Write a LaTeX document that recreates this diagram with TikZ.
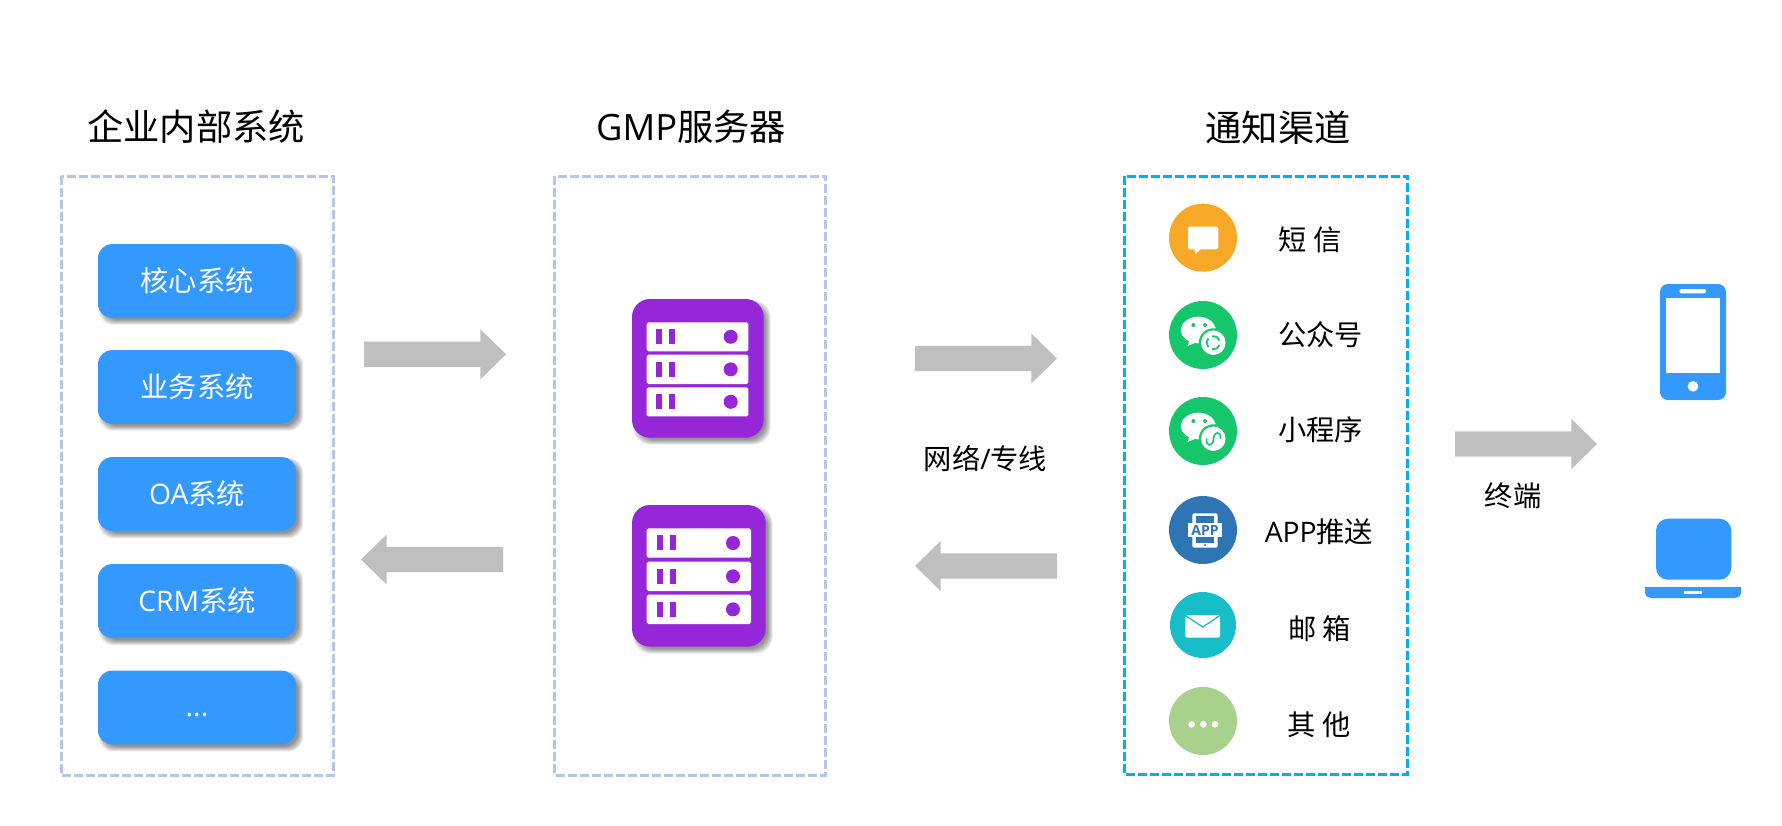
\documentclass[tikz,border=0pt]{standalone}
\usepackage{fontspec}
\setmainfont{Open Sans}
\newfontfamily\cjk{Noto Sans CJK SC}
\usetikzlibrary{calc}
\definecolor{bluefill}{HTML}{3399FF}
\definecolor{purplefill}{HTML}{9527D8}
\definecolor{dashpale}{HTML}{B4C7E7}
\definecolor{dashcyan}{HTML}{00B0F0}
\definecolor{flowgrey}{HTML}{BFBFBF}
\definecolor{orangefill}{HTML}{F7A827}
\definecolor{greenfill}{HTML}{16C66B}
\definecolor{appblue}{HTML}{2E75B6}
\definecolor{tealfill}{HTML}{17BEC8}
\definecolor{olivefill}{HTML}{A9D18E}
\newcommand{\fsT}{\fontsize{27.2}{32}\selectfont}
\newcommand{\fsB}{\fontsize{21.2}{25}\selectfont}
\tikzset{
  x=0.75pt,y=-0.75pt,
  titletext/.style={font=\fsT,text=black,inner sep=0pt},
  bodytext/.style={font=\fsB,text=black,inner sep=0pt},
  whitetext/.style={font=\fsB,text=white,inner sep=0pt},
  panelpale/.style={draw=dashpale,line width=2.25pt,dash pattern=on 6.75pt off 2.25pt},
  panelcyan/.style={draw=dashcyan,line width=2.25pt,dash pattern=on 6.75pt off 2.25pt},
  sysbox/.style={rectangle,rounded corners=10.5pt,fill=bluefill,minimum width=148.5pt,minimum height=55.3pt,inner sep=0pt,font=\fsB,text=white},
  flow/.style={fill=flowgrey},
  badge/.style={circle,inner sep=0pt,minimum size=51pt},
}
% soft shadow: x1 y1 x2 y2 radius(pt)
\newcommand{\softshadow}[5]{%
  \foreach \k in {0,1,2,3,4,5}{%
    \fill[black,opacity=0.085,rounded corners=#5]
      ({#1+4-3+\k},{#2+4-3+\k}) rectangle ({#3+4+3-\k},{#4+4+3-\k});
  }}
% rightward block arrow: x1 tail, x2 tip, y centre
\newcommand{\arrowright}[3]{%
  \fill[flow] (#1,#3-12.7) -- ({#2-25.6},#3-12.7) -- ({#2-25.6},#3-25) -- (#2,#3)
    -- ({#2-25.6},#3+25) -- ({#2-25.6},#3+12.7) -- (#1,#3+12.7) -- cycle;}
\newcommand{\arrowleft}[3]{%
  \fill[flow] (#1,#3-12.7) -- ({#2+25.6},#3-12.7) -- ({#2+25.6},#3-25) -- (#2,#3)
    -- ({#2+25.6},#3+25) -- ({#2+25.6},#3+12.7) -- (#1,#3+12.7) -- cycle;}
% rack: x1 x2 y1 y2 slot1x slot2x circlex
\newcommand{\rack}[7]{%
  \fill[white,rounded corners=1.2pt] (#1,#3) rectangle (#2,#4);
  \fill[purplefill] (#5,#3+7) rectangle ({#5+6},#3+22);
  \fill[purplefill] (#6,#3+7) rectangle ({#6+6},#3+22);
  \fill[purplefill] (#7,{(#3+#4)/2}) circle[radius=5.25pt];}
% wechat bubble inside a badge centred at (#1,#2)
\newcommand{\wechatbase}[2]{%
  \fill[white] ({#1-4.7},{#2-5}) ellipse[x radius=13pt,y radius=10pt];
  \fill[white] ({#1-13},{#2+3}) -- ({#1-15.3},{#2+11}) -- ({#1-6},{#2+7}) -- cycle;
  \fill[greenfill] ({#1-9.7},{#2-10}) circle[radius=1.5pt];
  \fill[greenfill] ({#1+2},{#2-10}) circle[radius=1.5pt];
  \fill[greenfill] ({#1+10.3},{#2+7.7}) circle[radius=10.8pt];
  \fill[white] ({#1+10.3},{#2+7.7}) circle[radius=9.2pt];}
\begin{document}
\begin{tikzpicture}
\useasboundingbox[fill=white] (0,0) rectangle (1782,825);

% titles
\node[titletext] (title1) at (196,127) {\cjk 企业内部系统};
\node[titletext] (title2) at (691,127) {GMP{\cjk 服务器}};
\node[titletext] (title3) at (1278,128) {\cjk 通知渠道};

% panels
\draw[panelpale] (61,176) rectangle (333.5,775);
\draw[panelpale] (554.5,176) rectangle (825.5,775);
\draw[panelcyan] (1124.5,176) rectangle (1407.5,774.5);

% system boxes
\softshadow{98}{244}{296}{317.7}{10.5pt}
\softshadow{98}{350}{296}{423.7}{10.5pt}
\softshadow{98}{457}{296}{531}{10.5pt}
\softshadow{98}{564.5}{296}{638}{10.5pt}
\softshadow{98}{670.5}{296}{744.4}{10.5pt}
\node[sysbox] (core) at (197,281) {\cjk 核心系统};
\node[sysbox] (biz) at (197,387) {\cjk 业务系统};
\node[sysbox] (oa) at (197,494) {OA{\cjk 系统}};
\node[sysbox] (crm) at (197,601) {CRM{\cjk 系统}};
\node[sysbox] (more) at (197,707.5) {};
\node[whitetext] (moretext) at (197,715.3) {...};

% servers
\softshadow{632}{299}{763.7}{437.7}{13.5pt}
\fill[purplefill,rounded corners=13.5pt] (632,299) rectangle (763.7,437.7);
\rack{646.7}{748.3}{322.3}{351.3}{656.3}{669}{730.7}
\rack{646.7}{748.3}{354.7}{384}{656.3}{669}{730.7}
\rack{646.7}{748.3}{387.3}{416.3}{656.3}{669}{730.7}
\softshadow{632}{505}{765.7}{646.7}{13.5pt}
\fill[purplefill,rounded corners=13.5pt] (632,505) rectangle (765.7,646.7);
\rack{646.7}{751}{528.3}{557.7}{657}{669.7}{733}
\rack{646.7}{751}{561.7}{591}{657}{669.7}{733}
\rack{646.7}{751}{594.7}{624}{657}{669.7}{733}

% block arrows
\arrowright{364}{506}{354.3}
\arrowleft{503}{361}{559.5}
\arrowright{915}{1057}{358.5}
\arrowleft{1057}{915}{566}
\arrowright{1455}{1597}{444}

% connector labels
\node[bodytext] (netlabel) at (985.5,458.5) {{\cjk 网络}/{\cjk 专线}};
\node[bodytext] (termlabel) at (1513,496) {\cjk 终端};

% channel badges
\node[badge,fill=orangefill] (sms) at (1203,237.7) {};
\node[badge,fill=greenfill] (mp) at (1203,335) {};
\node[badge,fill=greenfill] (mini) at (1203,431) {};
\node[badge,fill=appblue] (app) at (1203,530) {};
\node[badge,fill=tealfill,minimum size=49.5pt] (mail) at (1203,625) {};
\node[badge,fill=olivefill] (other) at (1203,721) {};

% sms glyph
\fill[white,rounded corners=1.2pt] (1188,226.7) rectangle (1218.3,249.3);
\fill[white] (1194,248) -- (1195.5,254) -- (1202,248) -- cycle;
% public account glyph
\wechatbase{1203}{335}
\draw[greenfill,line width=1.4pt] (1213.3,342.7) ++(20:5pt) arc[start angle=20,end angle=100,radius=5pt];
\draw[greenfill,line width=1.4pt] (1213.3,342.7) ++(140:5pt) arc[start angle=140,end angle=220,radius=5pt];
\draw[greenfill,line width=1.4pt] (1213.3,342.7) ++(260:5pt) arc[start angle=260,end angle=340,radius=5pt];
% mini program glyph
\wechatbase{1203}{431}
\draw[greenfill,line width=1.2pt,line cap=round] (1206.5,439) .. controls (1206,447) and (1213,447) .. (1213.5,438.7) .. controls (1214,431) and (1221,431) .. (1220.5,438);
% app glyph
\fill[white,rounded corners=1.5pt] (1192.3,513.3) rectangle (1217.7,547.7);
\fill[appblue] (1195.7,515.7) rectangle (1214.3,542.7);
\fill[white] (1188,522.7) rectangle (1222,537.3);
\node[inner sep=0pt,text=appblue,font=\fontsize{10.5}{12}\selectfont\bfseries] (apptext) at (1205,530) {APP};
\fill[appblue] (1205,545) circle[radius=0.9pt];
% mail glyph
\fill[white,rounded corners=1.5pt] (1185.3,615) rectangle (1220,637.7);
\draw[tealfill,line width=1pt] (1185.3,615.5) -- (1202.7,627) -- (1220,615.5);
% dots glyph
\fill[white] (1191.7,724.3) circle[radius=2.5pt];
\fill[white] (1203.3,724.3) circle[radius=2.5pt];
\fill[white] (1215,724.3) circle[radius=2.5pt];

% channel labels
\node[bodytext] (l1) at (1310,239.5) {\cjk 短 信};
\node[bodytext] (l2) at (1320.5,335) {\cjk 公众号};
\node[bodytext] (l3) at (1320.5,430) {\cjk 小程序};
\node[bodytext] (l4) at (1319,532) {APP{\cjk 推送}};
\node[bodytext] (l5) at (1319.5,629) {\cjk 邮 箱};
\node[bodytext] (l6) at (1319,725) {\cjk 其 他};

% phone
\fill[bluefill,rounded corners=6pt] (1660,284) rectangle (1726,400);
\fill[white] (1666.3,298) rectangle (1719.7,373);
\fill[white,rounded corners=1pt] (1679.7,289) rectangle (1706,293.3);
\fill[white] (1693,386.3) circle[radius=4pt];
% laptop
\fill[bluefill,rounded corners=9pt] (1656,518.7) rectangle (1731.3,579.7);
\fill[bluefill] (1645,587) -- (1741,587) -- (1741,592) .. controls (1741,596) and (1738,598) .. (1735,598) -- (1651,598) .. controls (1648,598) and (1645,596) .. (1645,592) -- cycle;
\fill[white] (1684.3,591.3) rectangle (1701.7,594.3);
\end{tikzpicture}
\end{document}
